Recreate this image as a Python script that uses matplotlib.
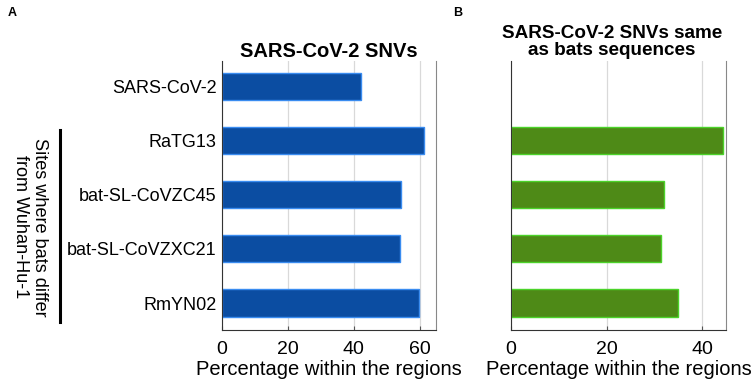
import matplotlib
matplotlib.use("Agg")
import matplotlib.pyplot as plt
from matplotlib.lines import Line2D

plt.rcParams['font.family'] = ['Liberation Sans', 'DejaVu Sans']

# data
labels_a = ['SARS-CoV-2', 'RaTG13', 'bat-SL-CoVZC45', 'bat-SL-CoVZXC21', 'RmYN02']
values_a = [42.3, 61.3, 54.4, 54.2, 59.8]
labels_b = ['RaTG13', 'bat-SL-CoVZC45', 'bat-SL-CoVZXC21', 'RmYN02']
values_b = [44.4, 32.0, 31.4, 34.9]
ticks_a = [0, 20, 40, 60]
ticks_b = [0, 20, 40]

blue, blue_edge = '#0B4DA2', '#3A8CF0'
green, green_edge = '#4E8A17', '#4CD32A'

fig = plt.figure(figsize=(7.51, 3.84), dpi=100)
ax_a = fig.add_axes([0.2956, 0.1406, 0.285, 0.7005])
ax_b = fig.add_axes([0.6804, 0.1406, 0.2863, 0.7005])


def style(ax, xmax, ticks):
    ax.set_xlim(0, xmax)
    ax.set_ylim(4.5, -0.48)
    ax.set_xticks(ticks)
    ax.grid(axis='x', color='#d9d9d9', lw=0.9)
    ax.set_axisbelow(True)
    ax.spines['top'].set_visible(False)
    ax.spines['left'].set_color('#333333')
    ax.spines['bottom'].set_color('#333333')
    ax.spines['right'].set_color('#888888')
    ax.tick_params(axis='x', labelsize=14, length=3, direction='in', color='#555555', pad=8)
    ax.tick_params(axis='y', length=0, labelsize=13)
    ax.set_xlabel('Percentage within the regions', fontsize=14.5, labelpad=1)


pos_a = list(range(len(labels_a)))
ax_a.barh(pos_a, values_a, height=0.5, color=blue, edgecolor=blue_edge, lw=1)
style(ax_a, 65, ticks_a)
ax_a.set_yticks(pos_a)
ax_a.set_yticklabels(labels_a)
ax_a.tick_params(axis='y', pad=4)
ax_a.set_title('SARS-CoV-2 SNVs', fontsize=14.5, fontweight='bold', pad=3)

pos_b = [labels_a.index(l) for l in labels_b]
ax_b.barh(pos_b, values_b, height=0.5, color=green, edgecolor=green_edge, lw=1)
style(ax_b, 45, ticks_b)
ax_b.set_yticks([])
ax_b.set_title('SARS-CoV-2 SNVs same\nas bats sequences', fontsize=13.6,
               fontweight='bold', pad=4, linespacing=1.05, x=0.47)

# bracket and group label
fig.add_artist(Line2D([60 / 751, 60 / 751], [1 - 130 / 384, 1 - 322 / 384],
                      color='black', lw=2.2))
fig.text(30 / 751, 1 - 227 / 384, 'Sites where bats differ\nfrom Wuhan-Hu-1',
         rotation=270, ha='center', va='center', fontsize=13.1, linespacing=1.1)

fig.text(12 / 751, 1 - 13 / 384, 'A', fontsize=9, fontweight='bold', ha='center', va='center')
fig.text(458 / 751, 1 - 13 / 384, 'B', fontsize=9, fontweight='bold', ha='center', va='center')

fig.savefig('out.png', dpi=100)
